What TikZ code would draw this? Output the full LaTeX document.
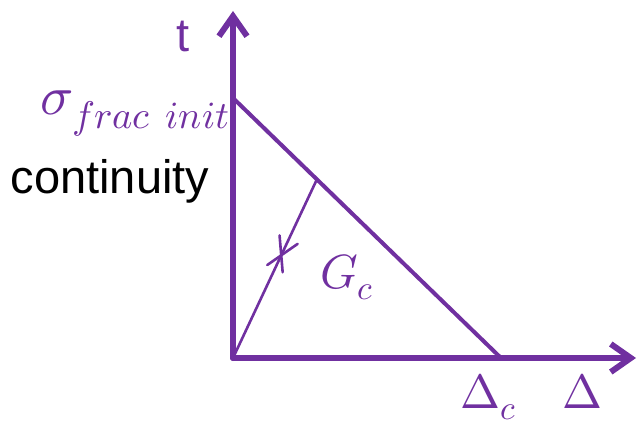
\documentclass[tikz,border=0pt]{standalone}
\usepackage{fontspec}
\usepackage{unicode-math}
\setmainfont{Liberation Sans}
\setmathfont{Latin Modern Math}
\usetikzlibrary{arrows.meta,calc}
\definecolor{purp}{RGB}{112,48,160}
\begin{document}
\begin{tikzpicture}[x=1pt,y=1pt,line cap=round,line join=round,
 axisline/.style={line width=6pt,draw=purp,-{Straight Barb[length=20pt,width=28pt]}},
 slopeline/.style={line width=4pt,draw=purp},
 pathline/.style={line width=2.6pt,draw=purp},
 mathlabel/.style={text=purp,font=\fontsize{48}{56}\selectfont,inner sep=0pt},
 textlabel/.style={font=\fontsize{47}{56}\selectfont,inner sep=0pt}]
 \useasboundingbox (-233,-68) rectangle (409,358);
 \coordinate (O) at (0,0);
 \coordinate (ttop) at (0,347);
 \coordinate (dend) at (403,0);
 \coordinate (S) at (0,260);
 \coordinate (Dc) at (268,0);
 \coordinate (P) at ($(S)!0.313!(Dc)$);
 \coordinate (X) at ($(O)!0.575!(P)$);
 \draw[slopeline] (S) -- (Dc);
 \draw[pathline] (O) -- (P);
 \foreach \ang in {30,-30}
  \draw[pathline] ($(X)!20pt!\ang:(P)$) -- ($(X)!-17pt!\ang:(P)$);
 \draw[axisline] (O) -- (ttop);
 \draw[axisline] (O) -- (dend);
 \node[textlabel,text=purp] (tlab) at (-50,322) {t};
 \node[mathlabel,font=\fontsize{55}{64}\selectfont,anchor=base east] (sigma) at (-3,243) {$\sigma_{frac\ init}$};
 \node[textlabel,anchor=base] (cont) at (-123,165) {continuity};
 \node[mathlabel,anchor=base west] (gc) at (87,70) {$G_c$};
 \node[mathlabel,anchor=base west] (deltac) at (227,-50) {$\Delta_c$};
 \node[mathlabel,anchor=base] (delta) at (349,-50) {$\Delta$};
\end{tikzpicture}
\end{document}
